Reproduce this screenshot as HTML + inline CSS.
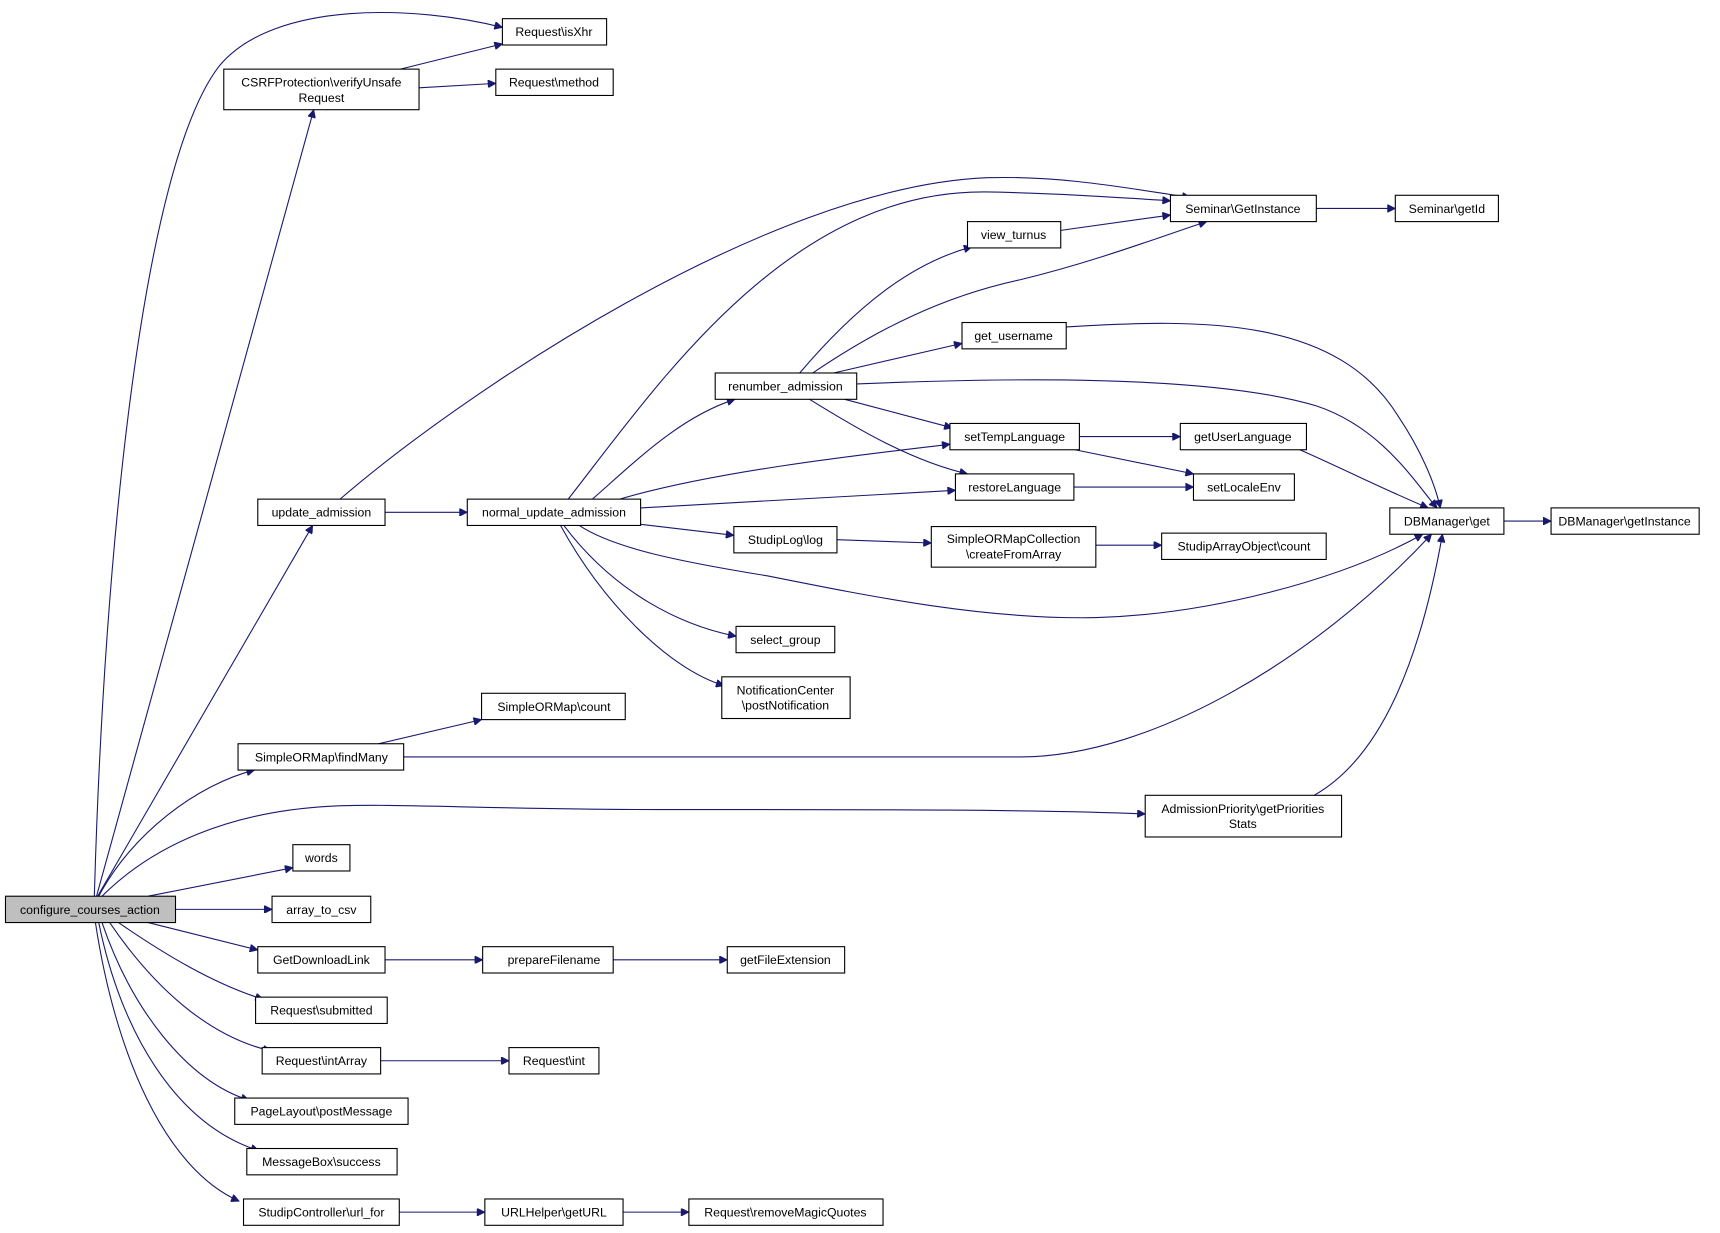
<!DOCTYPE html>
<html><head><meta charset="utf-8"><style>
html,body{margin:0;padding:0;background:#fff;}
svg{display:block;}
text{font-family:"Liberation Sans",sans-serif;font-size:11.2px;fill:#000;text-anchor:middle;}
.n{fill:#fff;stroke:#000;stroke-width:1;}
.e{fill:none;stroke:#191970;stroke-width:1;marker-end:url(#a);}
</style></head><body>
<svg width="1720" height="1233" viewBox="0 0 1568 1124" xmlns="http://www.w3.org/2000/svg">
<defs><marker id="a" viewBox="0 0 10 10" refX="10" refY="5" markerWidth="10" markerHeight="7" markerUnits="userSpaceOnUse" orient="auto"><path d="M0,0 L10,5 L0,10 z" fill="#191970" stroke="#191970"/></marker></defs>
<g>
<path class="e" d="M86,817 C95,500 130,150 200,60 C250,0 380,5 458,25"/>
<path class="e" d="M88,817 L286,100"/>
<path class="e" d="M89,817 L285,479"/>
<path class="e" d="M90,817 C120,760 180,715 232,702"/>
<path class="e" d="M93,817 C140,770 210,740 300,735 C360,732 450,738 600,738 C800,738 950,738 1044,742"/>
<path class="e" d="M135,817 L267,791"/>
<path class="e" d="M160,829 L248,829"/>
<path class="e" d="M135,841 L235,866"/>
<path class="e" d="M108,841 C150,870 195,897 240,911"/>
<path class="e" d="M100,841 C140,900 190,945 247,958"/>
<path class="e" d="M93,841 C120,920 170,985 227,1003"/>
<path class="e" d="M90,841 C110,940 160,1025 236,1049"/>
<path class="e" d="M87,841 C105,960 150,1065 218,1095"/>
<path class="e" d="M365,63 L458,40"/>
<path class="e" d="M382,80 L452,76"/>
<path class="e" d="M310,455 C420,360 700,170 900,162 C970,160 1030,172 1085,180"/>
<path class="e" d="M351,467 L426,467"/>
<path class="e" d="M540,455 C580,420 620,380 670,364"/>
<path class="e" d="M518,455 C600,350 720,172 900,175 C960,176 1020,180 1067,183"/>
<path class="e" d="M565,455 C650,430 780,415 866,405"/>
<path class="e" d="M584,463 L871,447"/>
<path class="e" d="M584,478 L669,488"/>
<path class="e" d="M528,479 C560,500 620,512 700,525 C800,545 900,565 1000,563 C1100,560 1220,530 1297,487"/>
<path class="e" d="M514,479 C560,540 620,570 671,580"/>
<path class="e" d="M511,479 C550,550 610,610 660,625"/>
<path class="e" d="M729,340 C780,280 830,240 886,225"/>
<path class="e" d="M741,340 C800,300 860,270 930,255 C1000,238 1060,215 1100,202"/>
<path class="e" d="M760,340 L877,313"/>
<path class="e" d="M781,350 C900,345 1100,340 1200,370 C1260,390 1290,440 1310,463"/>
<path class="e" d="M770,364 L868,390"/>
<path class="e" d="M738,364 C780,390 830,420 882,432"/>
<path class="e" d="M967,210 L1067,196"/>
<path class="e" d="M1200,190 L1272,190"/>
<path class="e" d="M972,298 C1100,290 1220,290 1275,380 C1295,410 1308,440 1313,463"/>
<path class="e" d="M984,398 L1076,398"/>
<path class="e" d="M980,410 L1088,432"/>
<path class="e" d="M979,444 L1088,444"/>
<path class="e" d="M1185,410 C1230,430 1270,450 1302,463"/>
<path class="e" d="M1371,475 L1414,475"/>
<path class="e" d="M763,492 L849,495"/>
<path class="e" d="M999,497 L1059,497"/>
<path class="e" d="M345,678 L439,656"/>
<path class="e" d="M368,690 C600,690 850,690 930,690 C1050,690 1200,600 1305,487"/>
<path class="e" d="M1198,725 C1260,690 1295,600 1315,487"/>
<path class="e" d="M351,875 L440,875"/>
<path class="e" d="M559,875 L663,875"/>
<path class="e" d="M347,967 L464,967"/>
<path class="e" d="M364,1105 L442,1105"/>
<path class="e" d="M568,1105 L628,1105"/>
</g>
<g>
<rect x="5" y="817" width="155" height="24" fill="#bfbfbf" stroke="#000"/><text x="82" y="833">configure_courses_action</text>
<rect class="n" x="458" y="17" width="95" height="24"/><text x="505" y="33">Request\isXhr</text>
<rect class="n" x="204" y="63" width="178" height="37"/><text x="293" y="79">CSRFProtection\verifyUnsafe</text><text x="293" y="93">Request</text>
<rect class="n" x="452" y="63" width="107" height="24"/><text x="505" y="79">Request\method</text>
<rect class="n" x="1067" y="178" width="133" height="24"/><text x="1133" y="194">Seminar\GetInstance</text>
<rect class="n" x="1272" y="178" width="94" height="24"/><text x="1319" y="194">Seminar\getId</text>
<rect class="n" x="882" y="202" width="85" height="24"/><text x="924" y="218">view_turnus</text>
<rect class="n" x="877" y="294" width="95" height="24"/><text x="924" y="310">get_username</text>
<rect class="n" x="652" y="340" width="129" height="24"/><text x="716" y="356">renumber_admission</text>
<rect class="n" x="866" y="386" width="118" height="24"/><text x="925" y="402">setTempLanguage</text>
<rect class="n" x="1076" y="386" width="115" height="24"/><text x="1133" y="402">getUserLanguage</text>
<rect class="n" x="871" y="432" width="108" height="24"/><text x="925" y="448">restoreLanguage</text>
<rect class="n" x="1088" y="432" width="92" height="24"/><text x="1134" y="448">setLocaleEnv</text>
<rect class="n" x="235" y="455" width="116" height="24"/><text x="293" y="471">update_admission</text>
<rect class="n" x="426" y="455" width="158" height="24"/><text x="505" y="471">normal_update_admission</text>
<rect class="n" x="1267" y="463" width="104" height="24"/><text x="1319" y="479">DBManager\get</text>
<rect class="n" x="1414" y="463" width="135" height="24"/><text x="1481" y="479">DBManager\getInstance</text>
<rect class="n" x="669" y="480" width="94" height="24"/><text x="716" y="496">StudipLog\log</text>
<rect class="n" x="849" y="480" width="150" height="37"/><text x="924" y="495">SimpleORMapCollection</text><text x="924" y="509">\createFromArray</text>
<rect class="n" x="1059" y="486" width="150" height="24"/><text x="1134" y="502">StudipArrayObject\count</text>
<rect class="n" x="671" y="571" width="90" height="24"/><text x="716" y="587">select_group</text>
<rect class="n" x="658" y="617" width="117" height="38"/><text x="716" y="633">NotificationCenter</text><text x="716" y="647">\postNotification</text>
<rect class="n" x="439" y="632" width="131" height="24"/><text x="505" y="648">SimpleORMap\count</text>
<rect class="n" x="217" y="678" width="151" height="24"/><text x="293" y="694">SimpleORMap\findMany</text>
<rect class="n" x="1044" y="725" width="179" height="38"/><text x="1133" y="741">AdmissionPriority\getPriorities</text><text x="1133" y="755">Stats</text>
<rect class="n" x="267" y="770" width="52" height="24"/><text x="293" y="786">words</text>
<rect class="n" x="248" y="817" width="90" height="24"/><text x="293" y="833">array_to_csv</text>
<rect class="n" x="235" y="863" width="116" height="24"/><text x="293" y="879">GetDownloadLink</text>
<rect class="n" x="440" y="863" width="119" height="24"/><text x="505" y="879">prepareFilename</text>
<rect class="n" x="663" y="863" width="107" height="24"/><text x="716" y="879">getFileExtension</text>
<rect class="n" x="233" y="909" width="120" height="24"/><text x="293" y="925">Request\submitted</text>
<rect class="n" x="239" y="955" width="108" height="24"/><text x="293" y="971">Request\intArray</text>
<rect class="n" x="464" y="955" width="82" height="24"/><text x="505" y="971">Request\int</text>
<rect class="n" x="214" y="1001" width="158" height="24"/><text x="293" y="1017">PageLayout\postMessage</text>
<rect class="n" x="225" y="1047" width="137" height="24"/><text x="293" y="1063">MessageBox\success</text>
<rect class="n" x="222" y="1093" width="142" height="24"/><text x="293" y="1109">StudipController\url_for</text>
<rect class="n" x="442" y="1093" width="126" height="24"/><text x="505" y="1109">URLHelper\getURL</text>
<rect class="n" x="628" y="1093" width="177" height="24"/><text x="716" y="1109">Request\removeMagicQuotes</text>
</g>
</svg>
</body></html>
